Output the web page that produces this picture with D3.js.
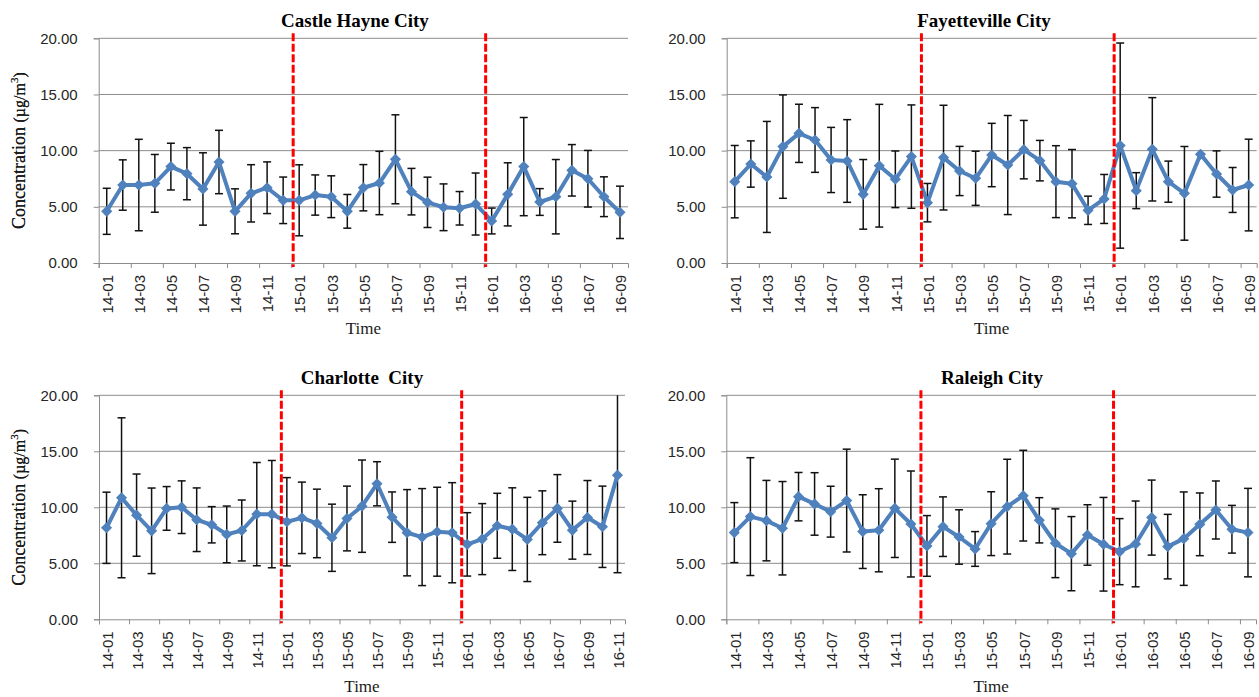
<!DOCTYPE html>
<html>
<head>
<meta charset="utf-8">
<script src="https://cdn.jsdelivr.net/npm/d3@7"></script>
<style>
body { margin: 0; background: #fff; }
</style>
</head>
<body>
<svg id="chart" width="1259" height="697"></svg>
<script>
// month categories (yy-mm)
const months = ["14-01","14-02","14-03","14-04","14-05","14-06","14-07","14-08","14-09","14-10","14-11","14-12",
                "15-01","15-02","15-03","15-04","15-05","15-06","15-07","15-08","15-09","15-10","15-11","15-12",
                "16-01","16-02","16-03","16-04","16-05","16-06","16-07","16-08","16-09","16-10","16-11"];
const yTicks = [0, 5, 10, 15, 20];
const periodStarts = ["15-01", "16-01"];

// monthly mean concentration and standard deviation
const castleMean = [4.6, 6.94, 6.94, 7.09, 8.58, 7.95, 6.59, 8.99, 4.6, 6.2, 6.7, 5.58, 5.58, 6.05, 5.9, 4.6, 6.7, 7.12, 9.23, 6.35, 5.4, 4.96, 4.87, 5.25, 3.74, 6.11, 8.58, 5.43, 5.9, 8.25, 7.5, 5.9, 4.51];
const castleSd = [2.05, 2.24, 4.07, 2.57, 2.08, 2.32, 3.22, 2.82, 2.0, 2.55, 2.3, 2.07, 3.16, 1.79, 1.86, 1.5, 2.06, 2.82, 3.96, 2.07, 2.24, 2.08, 1.49, 2.76, 1.15, 2.81, 4.37, 1.19, 3.31, 2.29, 2.52, 1.77, 2.33];

const fayMean = [7.24, 8.81, 7.66, 10.36, 11.54, 10.95, 9.17, 9.08, 6.11, 8.66, 7.45, 9.47, 5.37, 9.38, 8.19, 7.54, 9.61, 8.72, 10.09, 9.11, 7.24, 7.06, 4.69, 5.7, 10.45, 6.44, 10.12, 7.24, 6.2, 9.67, 7.92, 6.5, 6.94];
const faySd = [3.22, 2.06, 4.94, 4.6, 2.59, 2.88, 2.9, 3.68, 3.1, 5.46, 2.52, 4.6, 1.71, 4.66, 2.19, 2.41, 2.82, 4.41, 2.6, 1.8, 3.2, 3.04, 1.26, 2.18, 9.13, 1.6, 4.6, 1.83, 4.17, 0, 2.06, 2.0, 4.08];

const charMean = [8.17, 10.85, 9.3, 7.9, 9.9, 10.01, 8.89, 8.44, 7.58, 7.93, 9.39, 9.39, 8.71, 9.06, 8.56, 7.28, 9.0, 10.1, 12.1, 9.12, 7.73, 7.34, 7.82, 7.73, 6.69, 7.16, 8.35, 8.05, 7.13, 8.62, 9.9, 7.96, 9.09, 8.26, 12.87];
const charSd = [3.18, 7.14, 3.67, 3.82, 1.95, 2.35, 2.84, 1.62, 2.53, 2.72, 4.61, 4.79, 3.94, 3.19, 3.06, 3.0, 2.89, 4.12, 1.97, 2.25, 3.85, 4.33, 3.97, 4.47, 2.83, 3.17, 2.9, 3.69, 3.76, 2.85, 3.02, 2.59, 3.3, 3.63, 8.71];

const ralMean = [7.74, 9.17, 8.81, 8.13, 10.95, 10.3, 9.61, 10.6, 7.83, 7.95, 9.91, 8.51, 6.55, 8.27, 7.35, 6.28, 8.54, 10.06, 11.04, 8.84, 6.79, 5.86, 7.53, 6.7, 6.04, 6.73, 9.08, 6.49, 7.2, 8.48, 9.76, 8.04, 7.74];
const ralSd = [2.68, 5.26, 3.59, 4.17, 2.16, 2.79, 2.27, 4.59, 3.29, 3.71, 4.39, 4.73, 2.71, 2.66, 2.43, 1.55, 2.85, 4.23, 4.05, 2.02, 3.07, 3.31, 2.7, 4.18, 2.95, 3.83, 3.35, 2.88, 4.17, 2.8, 2.59, 2.13, 3.95];

const panels = [
    {title: "Castle Hayne City", mean: castleMean, sd: castleSd, left: 98.7, right: 628, top: 38.3, bottom: 263, titleX: 355, titleY: 27, timeY: 334},
    {title: "Fayetteville City", mean: fayMean, sd: faySd, left: 726.7, right: 1256.7, top: 38.3, bottom: 263, titleX: 984, titleY: 27, timeY: 334},
    {title: "Charlotte\u00a0 City", mean: charMean, sd: charSd, left: 99, right: 625, top: 395.3, bottom: 619.3, titleX: 362, titleY: 384, timeY: 692},
    {title: "Raleigh City", mean: ralMean, sd: ralSd, left: 726.3, right: 1256, top: 395.3, bottom: 619.3, titleX: 992, titleY: 384, timeY: 692}
];

const blue = "#4F81BD";
const gridColor = "#8c8c8c";
const labelFont = "'Liberation Sans', Arial, sans-serif";
const serifFont = "'Liberation Serif', 'Times New Roman', serif";

const svg = d3.select("#chart");
panels.forEach(drawPanel);

function drawPanel(p) {
    let cats = months.slice(0, p.mean.length);
    let n = cats.length;
    let x = d3.scaleBand().domain(cats).range([p.left, p.right]);
    let xIdx = d3.scaleLinear().domain([0, n]).range([p.left, p.right]);
    let y = d3.scaleLinear().domain([0, 20]).range([p.bottom, p.top]);
    let cx = d => x(d) + x.bandwidth() / 2;
    let g = svg.append("g");

    // horizontal gridlines
    g.append("g").selectAll("line").data(yTicks.slice(1)).enter().append("line")
        .attr("x1", p.left).attr("x2", p.right)
        .attr("y1", d => y(d)).attr("y2", d => y(d))
        .attr("stroke", gridColor).attr("stroke-width", 1);

    // y axis
    let yAxis = g.append("g").attr("transform", `translate(${p.left},0)`)
        .call(d3.axisLeft(y).tickValues(yTicks).tickSize(5).tickPadding(16).tickFormat(d3.format(".2f")));
    yAxis.select(".domain").attr("stroke", gridColor);
    yAxis.selectAll(".tick line").attr("stroke", gridColor);
    yAxis.selectAll("text").attr("font-family", labelFont).attr("font-size", 15).attr("fill", "#262626");

    // x axis tick marks at category boundaries, every 2
    let tickIdx = d3.range(0, n, 2);
    let xTicks = g.append("g").attr("transform", `translate(0,${p.bottom})`)
        .call(d3.axisBottom(xIdx).tickValues(tickIdx).tickSize(5).tickFormat(""));
    xTicks.select(".domain").attr("stroke", gridColor);
    xTicks.selectAll(".tick line").attr("stroke", gridColor);

    // x labels, rotated
    let xLabels = g.append("g").attr("transform", `translate(0,${p.bottom})`)
        .call(d3.axisBottom(x).tickValues(cats.filter((d, i) => i % 2 === 0)).tickSize(0));
    xLabels.select(".domain").remove();
    xLabels.selectAll("text")
        .attr("transform", "rotate(-90)")
        .attr("x", -12).attr("y", 1).attr("dy", "0.35em")
        .attr("text-anchor", "end")
        .attr("font-family", labelFont).attr("font-size", 15).attr("fill", "#262626");

    // error bars
    let capW = 4;
    let bars = g.append("g").selectAll("g").data(cats.map((c, i) => ({c: c, m: p.mean[i], s: p.sd[i]})).filter(d => d.s > 0))
        .enter().append("g")
        .attr("stroke", "#111").attr("stroke-width", 1.5);
    bars.append("line")
        .attr("x1", d => cx(d.c)).attr("x2", d => cx(d.c))
        .attr("y1", d => y(Math.min(20, d.m + d.s))).attr("y2", d => y(Math.max(0, d.m - d.s)));
    bars.filter(d => d.m + d.s <= 20).append("line")
        .attr("x1", d => cx(d.c) - capW).attr("x2", d => cx(d.c) + capW)
        .attr("y1", d => y(d.m + d.s)).attr("y2", d => y(d.m + d.s));
    bars.append("line")
        .attr("x1", d => cx(d.c) - capW).attr("x2", d => cx(d.c) + capW)
        .attr("y1", d => y(Math.max(0, d.m - d.s))).attr("y2", d => y(Math.max(0, d.m - d.s)));

    // mean line
    let line = d3.line().x((d, i) => cx(cats[i])).y(d => y(d));
    g.append("path").datum(p.mean)
        .attr("d", line)
        .attr("fill", "none")
        .attr("stroke", blue)
        .attr("stroke-width", 4)
        .attr("stroke-linejoin", "round");

    // diamond markers
    let diamond = d3.symbol().type(d3.symbolSquare).size(62);
    g.append("g").selectAll("path").data(p.mean).enter().append("path")
        .attr("d", diamond)
        .attr("transform", (d, i) => `translate(${cx(cats[i])},${y(d)}) rotate(45)`)
        .attr("fill", blue);

    // period separators
    g.append("g").selectAll("line").data(periodStarts).enter().append("line")
        .attr("x1", d => xIdx(cats.indexOf(d)) + 2).attr("x2", d => xIdx(cats.indexOf(d)) + 2)
        .attr("y1", p.top - 5).attr("y2", p.bottom + 4)
        .attr("stroke", "#ff0000").attr("stroke-width", 3)
        .attr("stroke-dasharray", "8,2.5");

    // title
    g.append("text")
        .attr("x", p.titleX).attr("y", p.titleY)
        .attr("text-anchor", "middle")
        .attr("font-family", serifFont).attr("font-weight", "bold").attr("font-size", 19)
        .text(p.title);

    // y axis title
    let yt = g.append("text")
        .attr("transform", `translate(25,${(p.top + p.bottom) / 2}) rotate(-90)`)
        .attr("text-anchor", "middle")
        .attr("font-family", serifFont).attr("fill", "#1a1a1a");
    yt.append("tspan").attr("font-size", 18).text("Concentration ");
    yt.append("tspan").attr("font-size", 16).text("(\u00b5g/m");
    yt.append("tspan").attr("font-size", 11).attr("dy", -7).text("3");
    yt.append("tspan").attr("font-size", 16).attr("dy", 7).text(")");

    // x axis title
    g.append("text")
        .attr("x", (p.left + p.right) / 2).attr("y", p.timeY)
        .attr("text-anchor", "middle")
        .attr("font-family", serifFont).attr("font-size", 17).attr("fill", "#1a1a1a")
        .text("Time");
}
</script>
</body>
</html>
